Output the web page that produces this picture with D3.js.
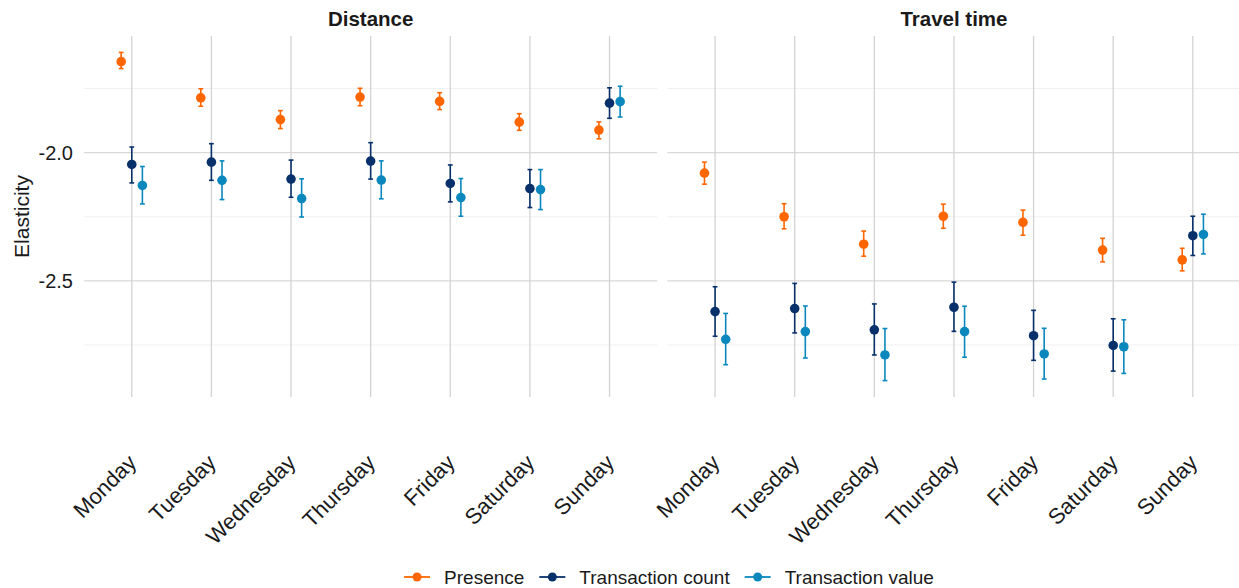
<!DOCTYPE html>
<html>
<head>
<meta charset="utf-8">
<script src="https://cdn.jsdelivr.net/npm/d3@7"></script>
<style>
  body { margin: 0; background: #fff; }
  text { font-family: "Liberation Sans", Arial, sans-serif; fill: #1a1a1a; }
</style>
</head>
<body>
<div id="chart"></div>
<script>
// Categories
const days = ["Monday", "Tuesday", "Wednesday", "Thursday", "Friday", "Saturday", "Sunday"];
const facets = ["Distance", "Travel time"];
const seriesNames = ["Presence", "Transaction count", "Transaction value"];
const seriesColors = ["#ff6600", "#08306b", "#0a88bd"];

// Distance: estimates and confidence bounds
const distPresence     = [-1.645, -1.786, -1.871, -1.783, -1.800, -1.881, -1.912];
const distPresenceLow  = [-1.672, -1.819, -1.906, -1.817, -1.832, -1.913, -1.946];
const distPresenceHigh = [-1.609, -1.751, -1.836, -1.749, -1.766, -1.848, -1.880];
const distCount        = [-2.046, -2.037, -2.103, -2.033, -2.120, -2.140, -1.807];
const distCountLow     = [-2.118, -2.108, -2.174, -2.103, -2.192, -2.214, -1.866];
const distCountHigh    = [-1.978, -1.965, -2.029, -1.961, -2.048, -2.066, -1.747];
const distValue        = [-2.128, -2.108, -2.179, -2.107, -2.175, -2.144, -1.801];
const distValueLow     = [-2.200, -2.183, -2.251, -2.180, -2.248, -2.222, -1.861];
const distValueHigh    = [-2.054, -2.032, -2.102, -2.032, -2.101, -2.066, -1.741];

// Travel time: estimates and confidence bounds
const timePresence     = [-2.080, -2.250, -2.357, -2.248, -2.272, -2.380, -2.418];
const timePresenceLow  = [-2.123, -2.297, -2.404, -2.295, -2.322, -2.426, -2.461];
const timePresenceHigh = [-2.037, -2.199, -2.306, -2.201, -2.224, -2.334, -2.373];
const timeCount        = [-2.620, -2.608, -2.691, -2.603, -2.714, -2.752, -2.324];
const timeCountLow     = [-2.716, -2.703, -2.789, -2.697, -2.810, -2.852, -2.401];
const timeCountHigh    = [-2.523, -2.510, -2.590, -2.505, -2.615, -2.648, -2.248];
const timeValue        = [-2.728, -2.698, -2.789, -2.698, -2.785, -2.757, -2.319];
const timeValueLow     = [-2.827, -2.801, -2.889, -2.798, -2.883, -2.861, -2.395];
const timeValueHigh    = [-2.627, -2.598, -2.686, -2.599, -2.685, -2.652, -2.240];

const majorTicks = [-2.0, -2.5];
const minorTicks = [-1.75, -2.25, -2.75];

// build long table
const table = [];
const sources = [
  [[distPresence, distPresenceLow, distPresenceHigh], [distCount, distCountLow, distCountHigh], [distValue, distValueLow, distValueHigh]],
  [[timePresence, timePresenceLow, timePresenceHigh], [timeCount, timeCountLow, timeCountHigh], [timeValue, timeValueLow, timeValueHigh]]
];
facets.forEach((f, fi) => {
  seriesNames.forEach((s, si) => {
    const [est, lo, hi] = sources[fi][si];
    days.forEach((d, di) => {
      table.push({facet: f, series: s, si: si, day: d, est: est[di], lo: lo[di], hi: hi[di]});
    });
  });
});

const W = 1239, H = 588;
const panelTop = 36, panelBottom = 397;
const panels = [{x0: 84, x1: 657.3}, {x0: 667.3, x1: 1240.6}];

const svg = d3.select("#chart").append("svg")
    .attr("width", W)
    .attr("height", H);

// shared y scale with 5% expansion like ggplot
const lo = d3.min(table, d => d.lo), hi = d3.max(table, d => d.hi);
const pad = (hi - lo) * 0.05;
const y = d3.scaleLinear().domain([lo - pad, hi + pad]).range([panelBottom, panelTop]);

const dodge = d3.scaleLinear().domain([0, 2]).range([-0.1333, 0.1333]);

facets.forEach((f, fi) => {
  const p = panels[fi];
  const x = d3.scalePoint().domain(days).range([p.x0, p.x1]).padding(0.6);
  const step = x.step();
  const g = svg.append("g");

  // grid
  g.selectAll(".minor").data(minorTicks).enter().append("line")
      .attr("x1", p.x0).attr("x2", p.x1)
      .attr("y1", d => y(d)).attr("y2", d => y(d))
      .attr("stroke", "#f1f1f1").attr("stroke-width", 1);
  g.selectAll(".major").data(majorTicks).enter().append("line")
      .attr("x1", p.x0).attr("x2", p.x1)
      .attr("y1", d => y(d)).attr("y2", d => y(d))
      .attr("stroke", "#d9d9d9").attr("stroke-width", 1.3);
  g.selectAll(".vgrid").data(days).enter().append("line")
      .attr("x1", d => x(d)).attr("x2", d => x(d))
      .attr("y1", panelTop).attr("y2", panelBottom)
      .attr("stroke", "#d3d3d3").attr("stroke-width", 1.3);

  // strip title
  svg.append("text")
      .attr("x", (p.x0 + p.x1) / 2).attr("y", 26)
      .attr("text-anchor", "middle")
      .style("font-size", "20.5px").style("font-weight", "bold")
      .text(f);

  // x tick labels
  g.selectAll(".xlab").data(days).enter().append("text")
      .attr("text-anchor", "end")
      .attr("transform", d => `translate(${x(d) + 6},${464}) rotate(-45)`)
      .style("font-size", "22px")
      .text(d => d);

  const rows = table.filter(d => d.facet === f);
  const cx = d => x(d.day) + dodge(d.si) * step;
  const cap = 2.4;

  // error bars
  const eb = g.selectAll(".eb").data(rows).enter().append("g")
      .attr("stroke", d => seriesColors[d.si]).attr("stroke-width", 1.6);
  eb.append("line").attr("x1", cx).attr("x2", cx).attr("y1", d => y(d.lo)).attr("y2", d => y(d.hi));
  eb.append("line").attr("x1", d => cx(d) - cap).attr("x2", d => cx(d) + cap).attr("y1", d => y(d.lo)).attr("y2", d => y(d.lo));
  eb.append("line").attr("x1", d => cx(d) - cap).attr("x2", d => cx(d) + cap).attr("y1", d => y(d.hi)).attr("y2", d => y(d.hi));

  // points
  g.selectAll(".pt").data(rows).enter().append("circle")
      .attr("cx", cx).attr("cy", d => y(d.est)).attr("r", 4.8)
      .attr("fill", d => seriesColors[d.si]);
});

// y tick labels
svg.selectAll(".ylab").data(majorTicks).enter().append("text")
    .attr("x", 73).attr("y", d => y(d)).attr("dy", "0.36em")
    .attr("text-anchor", "end")
    .style("font-size", "20px")
    .text(d => d3.format(".1f")(d).replace("−", "-"));

// y title
svg.append("text")
    .attr("transform", `translate(29,${(panelTop + panelBottom) / 2}) rotate(-90)`)
    .attr("text-anchor", "middle")
    .style("font-size", "21px")
    .text("Elasticity");

// legend
const legend = svg.append("g");
let lx = 0;
seriesNames.forEach((s, i) => {
  const item = legend.append("g").attr("transform", `translate(${lx},0)`);
  item.append("line").attr("x1", 0).attr("x2", 26).attr("y1", 0).attr("y2", 0)
      .attr("stroke", seriesColors[i]).attr("stroke-width", 1.8);
  item.append("circle").attr("cx", 13).attr("cy", 0).attr("r", 4.5).attr("fill", seriesColors[i]);
  const t = item.append("text").attr("x", 40).attr("dy", "0.36em")
      .style("font-size", "19px").text(s);
  lx += 40 + t.node().getComputedTextLength() + 15;
});
lx -= 15;
legend.attr("transform", `translate(${669 - lx / 2},577)`);
</script>
</body>
</html>
